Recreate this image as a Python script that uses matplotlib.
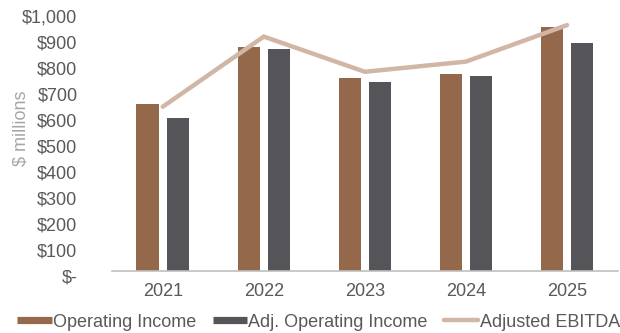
import numpy as np
import matplotlib
matplotlib.use('Agg')
import matplotlib.pyplot as plt
import matplotlib.transforms as mtransforms
from matplotlib.lines import Line2D

# data ($ millions)
years = ['2021', '2022', '2023', '2024', '2025']
operating_income = [641, 857, 738, 755, 936]
adj_operating_income = [585, 850, 723, 747, 875]
adjusted_ebitda = [629, 898, 763, 802, 942]
yticks = [0, 100, 200, 300, 400, 500, 600, 700, 800, 900, 1000]
ytick_labels = ['$-', '$100', '$200', '$300', '$400', '$500',
                '$600', '$700', '$800', '$900', '$1,000']

c_oi = '#94684A'
c_adj = '#545459'
c_line = '#D1B6A6'
c_text = '#595959'

plt.rcParams['font.family'] = ['Liberation Sans', 'DejaVu Sans']

fig = plt.figure(figsize=(6.2, 3.33), dpi=100)
ax = fig.add_axes([0.181, 0.187, 0.815, 0.783])

x = np.arange(len(years))
ax.bar(x - 0.15, operating_income, width=0.22, color=c_oi, zorder=2)
ax.bar(x + 0.15, adj_operating_income, width=0.22, color=c_adj, zorder=2)
ax.plot(x, adjusted_ebitda, color=c_line, lw=3.2, solid_capstyle='round',
        solid_joinstyle='miter', zorder=3)

ax.set_xlim(-0.5, 4.5)
ax.set_ylim(0, 1000)
ax.set_xticks(x)
ax.set_xticklabels(years)
ax.set_yticks(yticks)
ax.set_yticklabels(ytick_labels)

for s in ['top', 'right', 'left']:
    ax.spines[s].set_visible(False)
ax.spines['bottom'].set_color('#BFBFBF')
ax.spines['bottom'].set_linewidth(1.2)

ax.tick_params(axis='both', length=0, labelsize=13, labelcolor=c_text)
ax.tick_params(axis='y', pad=25)
ax.tick_params(axis='x', pad=9)

# excel puts the value labels a little low
off = mtransforms.ScaledTranslation(0, -4 / 72, fig.dpi_scale_trans)
for lbl in ax.get_yticklabels():
    lbl.set_transform(lbl.get_transform() + off)

ax.set_ylabel('$ millions', fontsize=13, color='#A6A6A6')
ax.yaxis.set_label_coords(-0.164, 0.547)

handles = [
    Line2D([], [], color=c_oi, lw=5.2, solid_capstyle='butt'),
    Line2D([], [], color=c_adj, lw=5.2, solid_capstyle='butt'),
    Line2D([], [], color=c_line, lw=3.2, solid_capstyle='round'),
]
fig.legend(handles, ['Operating Income', 'Adj. Operating Income', 'Adjusted EBITDA'],
           loc='center', bbox_to_anchor=(0.514, 0.033), ncol=3, frameon=False,
           fontsize=13, labelcolor=c_text, handlelength=1.9, handletextpad=0.08,
           columnspacing=0.9, borderaxespad=0)

fig.savefig('out.png', dpi=100)
